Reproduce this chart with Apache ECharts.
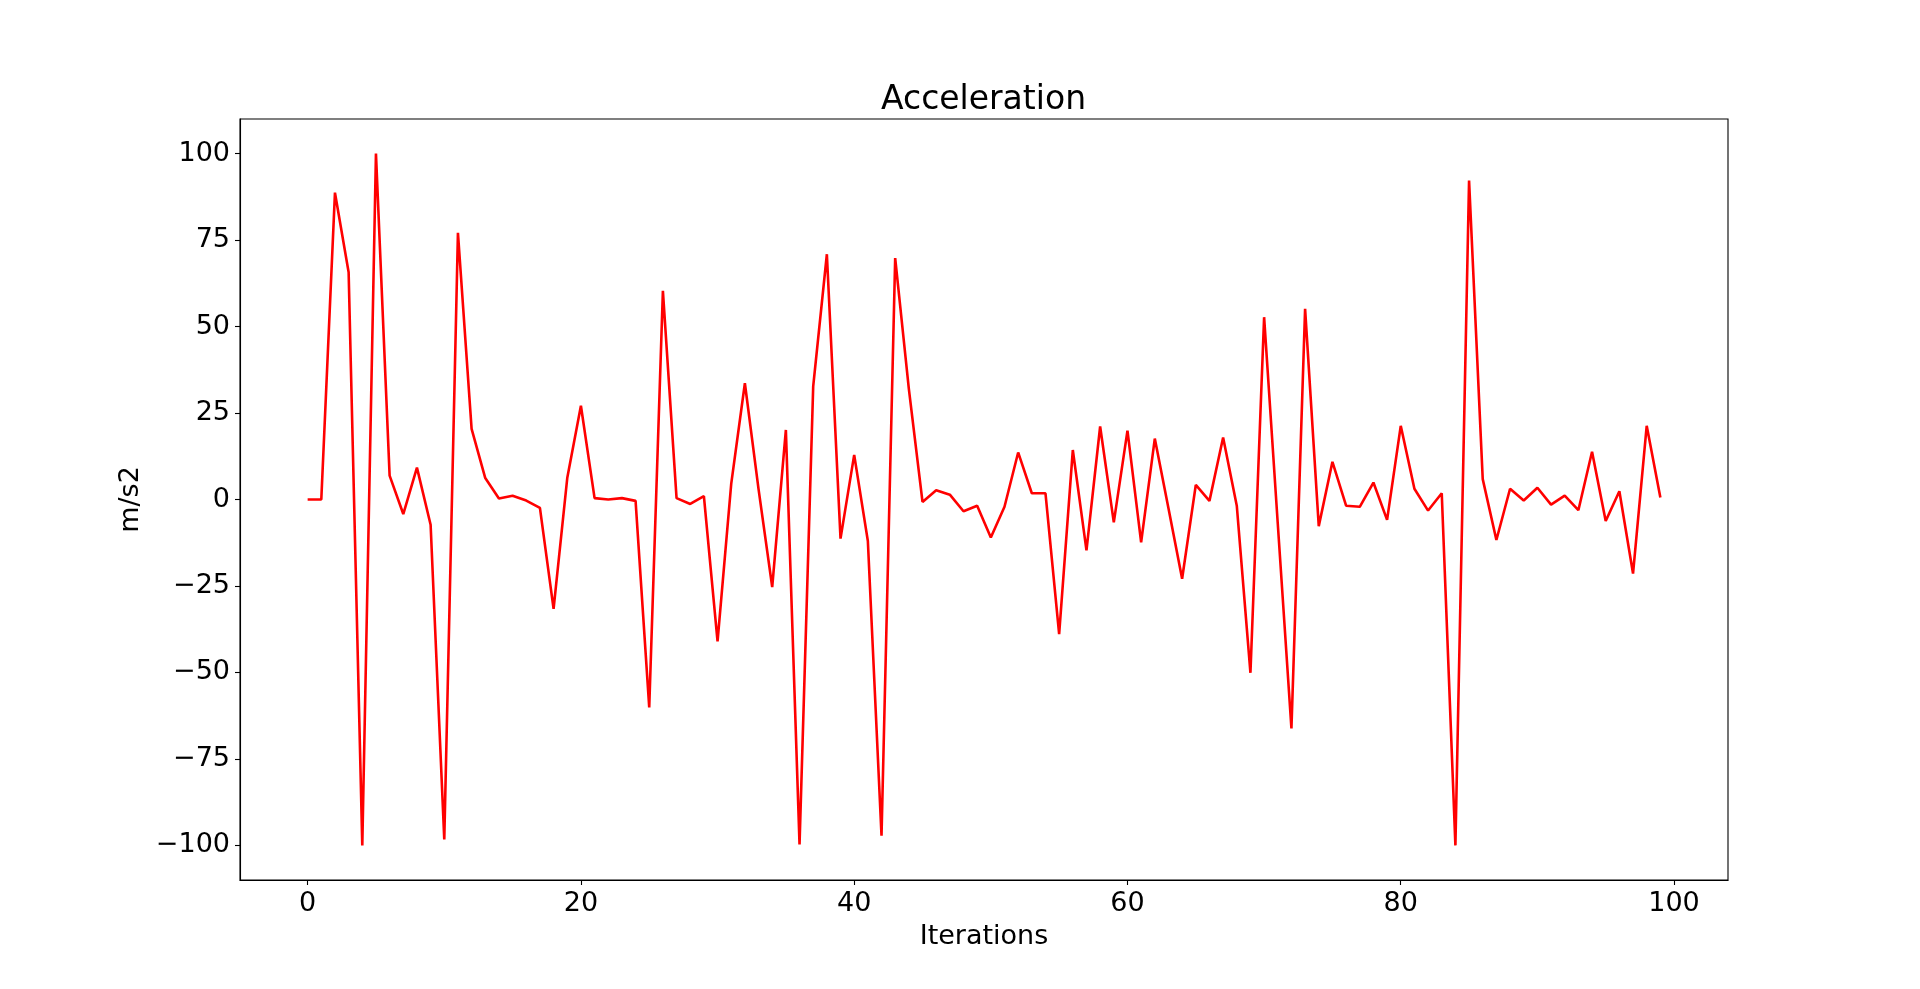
<!DOCTYPE html>
<html>
<head>
<meta charset="utf-8">
<title>Acceleration</title>
<script src="https://cdn.jsdelivr.net/npm/echarts@6/dist/echarts.min.js"></script>
<style>
  html, body { margin: 0; padding: 0; background: #fff; }
  #main { width: 1920px; height: 989px; }
</style>
</head>
<body>
<div id="main"></div>
<script>
// acceleration per iteration
var accel = [
    0, 0, 88.7, 65.7, -100, 100, 6.9, -4.2, 9.2, -7.3,
    -98.3, 77.1, 20.4, 6.2, 0.3, 1.1, -0.3, -2.4, -31.6, 6.2,
    27.1, 0.4, 0, 0.4, -0.4, -60.1, 60.3, 0.4, -1.3, 1.0,
    -41, 4.5, 33.6, 3, -25.3, 20.1, -99.7, 32.7, 70.9, -11.3,
    12.9, -12.0, -97.2, 69.8, 32, -0.7, 2.7, 1.4, -3.4, -1.8,
    -11.0, -2.1, 13.6, 1.8, 1.8, -38.9, 14.3, -14.7, 21.1, -6.6,
    19.9, -12.4, 17.6, -2.5, -22.9, 4.2, -0.4, 17.9, -1.8, -50.1,
    52.7, -7, -66.2, 55.1, -7.7, 10.9, -1.8, -2.1, 4.9, -5.9,
    21.3, 3.1, -3.2, 1.8, -100, 92.2, 5.9, -11.7, 3.1, -0.3,
    3.4, -1.5, 1.1, -3.1, 13.8, -6.2, 2.4, -21.4, 21.3, 0.6
];
var xTicks = [0, 20, 40, 60, 80, 100];
var yTicks = [-100, -75, -50, -25, 0, 25, 50, 75, 100];

var points = accel.map(function (v, i) { return [i, v]; });

var font = 'DejaVu Sans';

var chart = echarts.init(document.getElementById('main'), null, { renderer: 'canvas' });

var option = {
    backgroundColor: '#fff',
    animation: false,
    title: {
        text: 'Acceleration',
        left: 881,
        top: 84,
        padding: 0,
        textStyle: { fontFamily: font, fontSize: 33, fontWeight: 'normal', color: '#000' }
    },
    grid: {
        left: 240,
        right: 192,
        top: 119,
        bottom: 109,
        show: true,
        borderColor: '#000',
        borderWidth: 1.1,
        backgroundColor: 'transparent'
    },
    xAxis: {
        type: 'value',
        min: -4.95,
        max: 103.95,
        name: 'Iterations',
        nameLocation: 'middle',
        nameGap: 43,
        nameTextStyle: { fontFamily: font, fontSize: 27, color: '#000' },
        axisLine: { show: true, onZero: false, lineStyle: { color: '#000', width: 1.1 } },
        splitLine: { show: false },
        axisTick: {
            show: true,
            inside: false,
            length: 5,
            customValues: xTicks,
            lineStyle: { color: '#000', width: 1.1 }
        },
        axisLabel: {
            customValues: xTicks,
            margin: 10,
            fontFamily: font,
            fontSize: 27,
            color: '#000'
        }
    },
    yAxis: {
        type: 'value',
        min: -110,
        max: 110,
        name: 'm/s2',
        nameLocation: 'middle',
        nameRotate: 90,
        nameGap: 83,
        nameTextStyle: { fontFamily: font, fontSize: 27, color: '#000' },
        axisLine: { show: true, onZero: false, lineStyle: { color: '#000', width: 1.1 } },
        splitLine: { show: false },
        axisTick: {
            show: true,
            inside: false,
            length: 5,
            customValues: yTicks,
            lineStyle: { color: '#000', width: 1.1 }
        },
        axisLabel: {
            customValues: yTicks,
            margin: 10,
            fontFamily: font,
            fontSize: 27,
            color: '#000',
            formatter: function (v) {
                return v < 0 ? '\u2212' + Math.abs(v) : String(v);
            }
        }
    },
    series: [
        {
            type: 'line',
            data: points,
            showSymbol: false,
            symbol: 'none',
            lineStyle: { color: '#ff0000', width: 2.6 },
            itemStyle: { color: '#ff0000' }
        }
    ]
};

chart.setOption(option);
</script>
</body>
</html>
